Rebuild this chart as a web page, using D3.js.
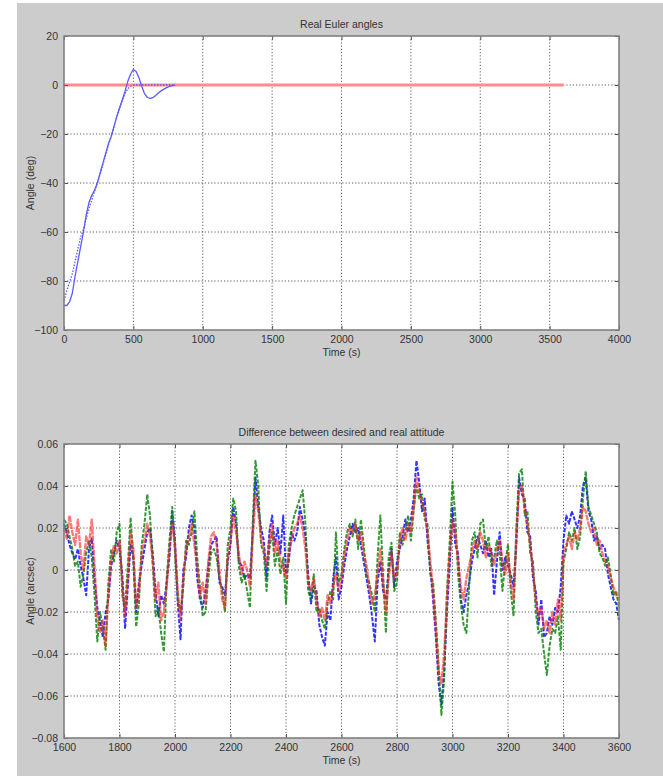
<!DOCTYPE html>
<html>
<head>
<meta charset="utf-8">
<script src="https://cdn.jsdelivr.net/npm/d3@7"></script>
<style>
  html, body { margin: 0; padding: 0; background: #fff; }
  svg { display: block; font-family: "Liberation Sans", Arial, sans-serif; }
</style>
</head>
<body>
<svg id="chart" width="663" height="779"></svg>
<script>
// ---- top plot: real euler angles (deg)
const eulerTime = [0, 20, 40, 60, 80, 100, 120, 140, 160, 180, 200, 220, 240, 260, 280, 300, 320, 340, 360, 380,
  400, 420, 440, 460, 480, 500, 520, 540, 560, 580, 600, 620, 640, 660, 680, 700, 720, 740, 760, 780, 800];
const eulerReal = [-90, -90, -88.5, -85, -78, -72, -66, -60, -53, -48, -45, -43, -40, -36, -32, -28, -24, -21, -17, -13,
  -9.5, -6, -2.5, 1.5, 4.5, 6.3, 5.5, 3, -0.5, -3.5, -5, -5.5, -5.2, -4.3, -3.3, -2.4, -1.7, -1.1, -0.6, -0.3, 0];
const eulerRef = [-88, -84, -80.5, -77, -72, -67, -62, -59, -54.5, -50.5, -47, -43.5, -40, -36.5, -32.5, -28.5, -24.5, -21, -17, -13,
  -9.5, -6.5, -3.5, -1.5, -0.5, 0, 0, 0, 0, 0, 0, 0, 0, 0, 0, 0, 0, 0, 0, 0, 0];
const desiredTime = [0, 3600];
const desiredAngle = [0, 0];
const eulerXTicks = [0, 500, 1000, 1500, 2000, 2500, 3000, 3500, 4000];
const eulerYTicks = [-100, -80, -60, -40, -20, 0, 20];

// ---- bottom plot: attitude difference, sampled every 10 s from 1600 s (values in 1e-3 arcsec)
const diffStart = 1600, diffStep = 10;
const diffRed = [
  20, 15, 26, 18, 12, 24, 8, 0, 16, 12,
  24, 2, -22, -30, -24, -36, -10, 4, 12, 8,
  14, -6, -22, -4, 18, 10, -18, -10, 8, 14,
  22, 16, 4, -14, -6, -24, -20, -8, 10, 22,
  12, -10, -24, -4, 10, 16, 22, 12, 2, -12,
  -6, -16, 4, 16, 18, 12, 0, -14, -18, 6,
  14, 26, 18, 8, -2, 4, 0, -8, 14, 36,
  28, 16, 10, 2, 14, 22, 8, 14, 4, 2,
  -4, 8, 14, 20, 22, 26, 20, 10, -6, -10,
  -4, -14, -22, -18, -24, -12, -16, -8, -2, -10,
  -4, 6, 14, 20, 18, 22, 14, 18, 8, 2,
  -8, -16, -12, -2, 10, -6, -20, -4, 8, -4,
  -2, 14, 20, 14, 22, 18, 30, 44, 38, 32,
  28, 18, 4, -10, -28, -48, -54, -40, -14, 8,
  24, 18, 4, -8, -14, -4, 2, 8, 14, 10,
  18, 14, 6, 12, 8, 2, 10, 14, 4, -2,
  8, -6, -14, 16, 38, 40, 30, 22, 12, 0,
  -14, -22, -18, -28, -24, -30, -20, -26, -14, -24,
  8, 12, 16, 10, 18, 14, 20, 30, 28, 22,
  18, 20, 12, 14, 8, 4, 2, -4, -8, -12,
  -14];
const diffBlue = [
  22, 18, 12, 8, 5, 10, 2, -4, -12, 10,
  15, -4, -18, -25, -32, -20, -14, 2, 8, 14,
  10, -2, -28, -8, 12, 6, -20, -6, 2, 10,
  18, 20, 8, -10, -22, -12, -16, -6, 6, 28,
  14, -16, -33, 0, 6, 20, 26, 20, -4, -14,
  -18, -10, 2, 12, 14, 16, -6, -8, -12, 4,
  12, 30, 22, 4, 2, -4, -2, -4, 18, 44,
  30, 20, 14, -4, 18, 26, 12, 20, 8, 26,
  -2, 4, 18, 14, 18, 30, 24, 16, -2, -16,
  -8, -10, -26, -32, -36, -20, -24, -4, 6, -14,
  -8, 2, 10, 16, 22, 18, 20, 12, 4, -4,
  -12, -22, -34, -6, 4, -10, -14, 0, 10, -8,
  4, 10, 16, 24, 18, 24, 34, 52, 42, 28,
  34, 14, 0, -14, -32, -54, -64, -48, -20, 2,
  30, 12, 8, -14, -20, -12, -6, 4, 10, 16,
  12, 8, 14, 6, 10, -12, 4, 18, 0, 6,
  2, -2, -8, 12, 44, 36, 34, 18, 16, -4,
  -10, -26, -14, -32, -30, -22, -26, -18, -20, -8,
  14, 26, 22, 28, 24, 20, 26, 40, 44, 28,
  24, 14, 16, 10, 12, 10, -2, -8, -14, -16,
  -24];
const diffGreen = [
  24, 22, 16, 10, 2, 4, -8, -2, 8, 14,
  6, -12, -34, -20, -28, -38, -6, 10, 4, 18,
  22, -12, -18, 2, 25, 4, -27, -16, 12, 22,
  36, 26, 2, -22, -18, -30, -39, -4, 14, 30,
  8, -14, -20, -8, 14, 12, 18, 28, 6, -8,
  -22, -20, -4, 8, 10, 6, -4, -10, -20, 12,
  20, 34, 28, 2, -6, -2, -10, -18, 22, 52,
  40, 12, 8, -10, 10, 18, 2, 10, -2, 6,
  -16, 12, 20, 26, 30, 34, 38, 22, -10, -14,
  -2, -20, -18, -24, -28, -16, -10, -14, 18, -6,
  -2, 10, 18, 22, 16, 24, 10, 24, 12, -2,
  -6, -12, -20, 6, 26, -2, -30, 6, 13, -10,
  -6, 18, 12, 18, 26, 14, 28, 40, 34, 36,
  24, 22, -2, -6, -24, -46, -69, -52, -10, 14,
  42, 26, -2, -16, -26, -30, -8, 14, 18, 6,
  22, 24, 10, 16, 2, 6, 14, 8, -10, 4,
  12, -10, -22, 20, 46, 48, 26, 28, 8, 4,
  -20, -30, -28, -40, -50, -36, -28, -30, -22, -38,
  4, 10, 18, 14, 20, 10, 16, 34, 47, 30,
  26, 22, 18, 8, 6, 2, 6, -2, -12, -10,
  -18];
const diffUnit = 1e-3;
const diffXTicks = [1600, 1800, 2000, 2200, 2400, 2600, 2800, 3000, 3200, 3400, 3600];
const diffYTicks = [-0.08, -0.06, -0.04, -0.02, 0, 0.02, 0.04, 0.06];

const svg = d3.select('#chart');

// figure background
svg.append('rect').attr('x', 17).attr('y', 3).attr('width', 646).attr('height', 773).attr('fill', '#cccccc');

function makeAxes(box, xDomain, yDomain, xTicks, yTicks, yFmt, title, yLabel) {
  const x = d3.scaleLinear().domain(xDomain).range([box.left, box.right]);
  const y = d3.scaleLinear().domain(yDomain).range([box.bottom, box.top]);
  const w = box.right - box.left, h = box.bottom - box.top;
  const g = svg.append('g');

  g.append('rect')
    .attr('x', box.left).attr('y', box.top)
    .attr('width', w).attr('height', h)
    .attr('fill', '#fff');

  // dotted grid
  const grid = g.append('g').attr('class', 'grid');
  grid.selectAll('line.gx').data(xTicks.slice(1, -1)).join('line')
    .attr('class', 'gx')
    .attr('x1', d => x(d)).attr('x2', d => x(d))
    .attr('y1', box.top).attr('y2', box.bottom);
  grid.selectAll('line.gy').data(yTicks.slice(1, -1)).join('line')
    .attr('class', 'gy')
    .attr('y1', d => y(d)).attr('y2', d => y(d))
    .attr('x1', box.left).attr('x2', box.right);
  grid.selectAll('line')
    .attr('stroke', '#444').attr('stroke-width', 1)
    .attr('stroke-dasharray', '1.2,2').attr('opacity', 0.85);

  const plot = g.append('g');

  // inward ticks + labels
  const ax = g.append('g');
  ax.append('g').attr('transform', `translate(0,${box.bottom})`)
    .call(d3.axisBottom(x).tickValues(xTicks).tickSize(-4).tickPadding(6).tickFormat(d3.format('d')));
  ax.append('g').attr('transform', `translate(0,${box.top})`)
    .call(d3.axisTop(x).tickValues(xTicks).tickSize(-4).tickFormat(''));
  ax.append('g').attr('transform', `translate(${box.left},0)`)
    .call(d3.axisLeft(y).tickValues(yTicks).tickSize(-4).tickPadding(6).tickFormat(yFmt));
  ax.append('g').attr('transform', `translate(${box.right},0)`)
    .call(d3.axisRight(y).tickValues(yTicks).tickSize(-4).tickFormat(''));
  ax.selectAll('.domain').remove();
  ax.selectAll('.tick line').attr('stroke', '#555');
  ax.selectAll('.tick text').attr('fill', '#333').style('font-size', '10.5px');

  g.append('rect')
    .attr('x', box.left).attr('y', box.top)
    .attr('width', w).attr('height', h)
    .attr('fill', 'none').attr('stroke', '#808080').attr('stroke-width', 1.6);

  g.append('text')
    .attr('x', (box.left + box.right) / 2).attr('y', box.top - 8)
    .attr('text-anchor', 'middle').attr('fill', '#333').style('font-size', '10.5px')
    .text(title);
  g.append('text')
    .attr('x', (box.left + box.right) / 2).attr('y', box.bottom + 26)
    .attr('text-anchor', 'middle').attr('fill', '#333').style('font-size', '10.5px')
    .text('Time (s)');
  const cy = (box.top + box.bottom) / 2;
  g.append('text')
    .attr('transform', `translate(34,${cy}) rotate(-90)`)
    .attr('text-anchor', 'middle').attr('fill', '#333').style('font-size', '10.5px')
    .text(yLabel);

  return { x, y, plot };
}

function drawLine(a, xs, ys, color, width, dash, opacity) {
  const line = d3.line().x((d, i) => a.x(xs[i])).y(d => a.y(d));
  a.plot.append('path')
    .datum(ys)
    .attr('d', line)
    .attr('fill', 'none')
    .attr('stroke', color)
    .attr('stroke-width', width)
    .attr('stroke-dasharray', dash)
    .attr('stroke-linejoin', 'round')
    .attr('opacity', opacity);
}

// top
const eulerAxes = makeAxes({ left: 64, right: 619, top: 36, bottom: 330 },
  [0, 4000], [-100, 20], eulerXTicks, eulerYTicks, d3.format('d'),
  'Real Euler angles', 'Angle (deg)');
drawLine(eulerAxes, desiredTime, desiredAngle, '#ff8c8c', 3, null, 1);
drawLine(eulerAxes, eulerTime, eulerRef, '#5a5aff', 1.3, '1.5,1.5', 1);
drawLine(eulerAxes, eulerTime, eulerReal, '#5a5aff', 1.3, null, 1);

// bottom
const diffTime = diffRed.map((d, i) => diffStart + i * diffStep);
const diffAxes = makeAxes({ left: 64, right: 619, top: 444, bottom: 738 },
  [1600, 3600], [-0.08, 0.06], diffXTicks, diffYTicks, d => d === 0 ? '0' : d3.format('.2f')(d),
  'Difference between desired and real attitude', 'Angle (arcsec)');
drawLine(diffAxes, diffTime, diffBlue.map(v => v * diffUnit), '#0000ff', 2, '4,1.5', 0.8);
drawLine(diffAxes, diffTime, diffGreen.map(v => v * diffUnit), '#007f00', 2, '4,1.5', 0.8);
drawLine(diffAxes, diffTime, diffRed.map(v => v * diffUnit), '#ff2020', 2.4, '6,1', 0.6);
</script>
</body>
</html>
